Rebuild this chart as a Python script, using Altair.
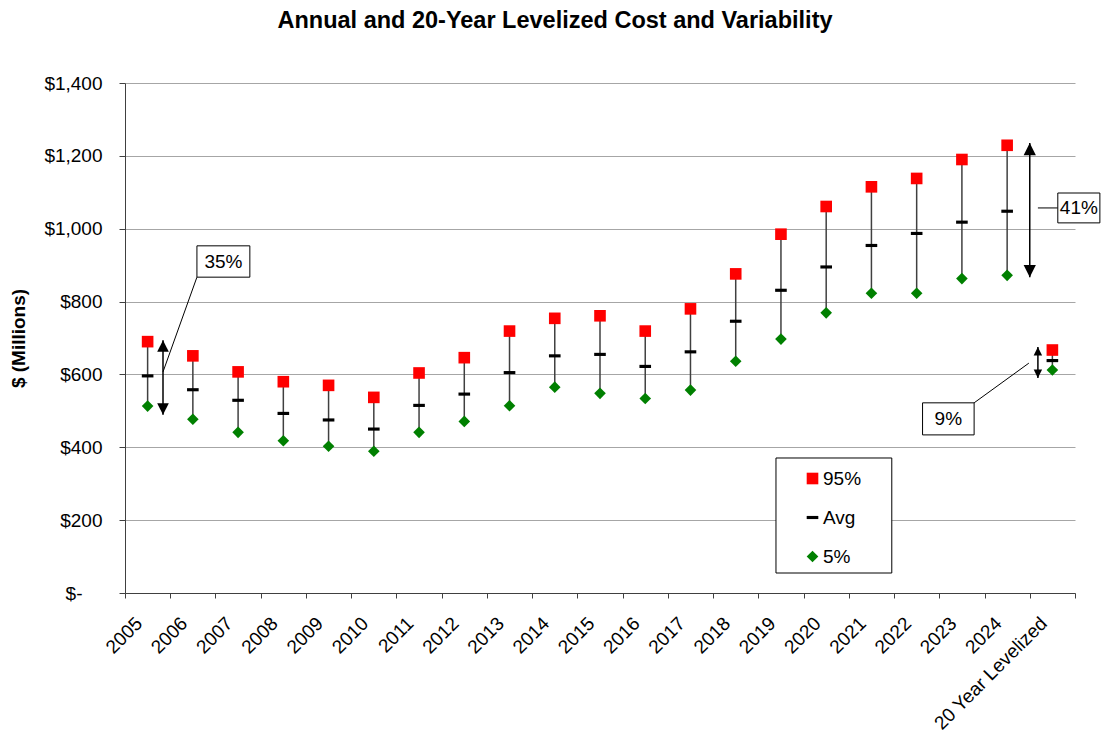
import json
import altair as alt
import pandas as pd

# ---------------- data ----------------
categories = ['2005', '2006', '2007', '2008', '2009', '2010', '2011', '2012', '2013', '2014',
              '2015', '2016', '2017', '2018', '2019', '2020', '2021', '2022', '2023', '2024',
              '20 Year Levelized']
p95 = [690, 651, 607, 580, 570, 537, 604, 646, 719, 754, 761, 719, 780, 876, 985, 1061, 1115, 1138, 1190, 1229, 667]
avg = [596, 558, 529, 493, 475, 450, 515, 546, 605, 651, 655, 622, 662, 746, 831, 895, 954, 987, 1018, 1048, 638]
p5 = [513, 477, 441, 418, 403, 389, 441, 471, 514, 565, 548, 534, 557, 636, 697, 769, 823, 823, 863, 872, 612]

series_names = ['95%', 'Avg', '5%']
series_colors = ['#ff0000', '#000000', '#008000']
y_ticks = [0, 200, 400, 600, 800, 1000, 1200, 1400]

# variability annotations (x in category-index units, y in $ millions)
arrow_labels = ['35%', '41%', '9%']
arrow_x = [0.34, 19.5, 19.68]
arrow_low = [489, 867, 590]
arrow_high = [694, 1235, 675]
arrow_head = [135, 150, 72]

box_x1 = [1.09, 20.12, 17.13]
box_x2 = [2.26, 21.05, 18.27]
box_top = [953, 1098, 522]
box_bottom = [867, 1016, 434]
leader_x1 = [1.09, 19.68, 18.27]
leader_y1 = [867, 1057, 522]
leader_x2 = [0.34, 20.12, 19.48]
leader_y2 = [607, 1057, 631]

legend_box = dict(x1=13.89, x2=16.45, top=370.6, bottom=54.9)

# ---------------- tables ----------------
n = len(categories)
long_rows = []
for i in range(n):
    for s, v in zip(series_names, (p95[i], avg[i], p5[i])):
        long_rows.append({'i': i, 'cat': categories[i], 'series': s, 'value': v})
points_df = pd.DataFrame(long_rows)
whisk_df = pd.DataFrame({'i': list(range(n)), 'low': p5, 'high': p95})

up_path = 'M0,0L1,2L-1,2Z'
down_path = 'M0,0L1,-2L-1,-2Z'
dash_path = 'M-1,-0.27L1,-0.27L1,0.27L-1,0.27Z'

up_df = pd.DataFrame({'x': arrow_x, 'y': arrow_high, 'size': arrow_head})
down_df = pd.DataFrame({'x': arrow_x, 'y': arrow_low, 'size': arrow_head})
shaft_df = pd.DataFrame({'x': arrow_x, 'low': arrow_low, 'high': arrow_high})
leader_df = pd.DataFrame({'x': leader_x1, 'x2': leader_x2, 'y': leader_y1, 'y2': leader_y2})
box_df = pd.DataFrame({'x': box_x1, 'x2': box_x2, 'y': box_top, 'y2': box_bottom,
                       'label': arrow_labels,
                       'tx': [(a + b) / 2 for a, b in zip(box_x1, box_x2)],
                       'ty': [(a + b) / 2 for a, b in zip(box_top, box_bottom)]})
legbox_df = pd.DataFrame([{'x': legend_box['x1'], 'x2': legend_box['x2'],
                           'y': legend_box['top'], 'y2': legend_box['bottom']}])

# ---------------- scales & axes ----------------
FONT = 'Liberation Sans'
band_px = 950 / n
xscale = alt.Scale(domain=[-0.5, n - 0.5], nice=False, zero=False)
yscale = alt.Scale(domain=[0, 1400], nice=False, zero=True)

label_expr = json.dumps(categories) + "[round(datum.value + 0.5)] || ''"
xaxis = alt.Axis(values=[k - 0.5 for k in range(n + 1)], labelExpr=label_expr,
                 labelAngle=-45, labelAlign='right', labelBaseline='middle',
                 labelOffset=band_px / 2 - 9, labelPadding=22, tickSize=5,
                 labelFontSize=19, labelColor='black', labelFont=FONT,
                 domainColor='#404040', tickColor='#404040', grid=False, title=None,
                 labelFlush=False, labelOverlap=False, labelBound=False)
yaxis = alt.Axis(values=y_ticks,
                 labelExpr="datum.value == 0 ? '$-' : '$' + format(datum.value, ',')",
                 labelFontSize=19, labelColor='black', labelFont=FONT,
                 labelPadding={'condition': {'test': 'datum.value == 0', 'value': 37}, 'value': 17},
                 tickSize=6, grid=True, gridColor='#a6a6a6', domainColor='#404040',
                 tickColor='#404040', title='$ (Millions)', titleFontSize=19,
                 titleFont=FONT, titleFontWeight='bold', titleColor='black',
                 titleX=-107, titleY=255, titleBaseline='middle')


def X(f):
    return alt.X(f, scale=xscale, axis=xaxis)


def Y(f):
    return alt.Y(f, scale=yscale, axis=yaxis)


legbox = alt.Chart(legbox_df).mark_rect(fill='white', stroke='black', strokeWidth=1).encode(
    x=X('x:Q'), x2='x2:Q', y=Y('y:Q'), y2='y2:Q')

whiskers = alt.Chart(whisk_df).mark_rule(color='#404040', strokeWidth=1.5).encode(
    x=X('i:Q'), y=Y('low:Q'), y2='high:Q')

points = alt.Chart(points_df).mark_point(filled=True, size=135, opacity=1, strokeWidth=0).encode(
    x=X('i:Q'), y=Y('value:Q'),
    shape=alt.Shape('series:N', scale=alt.Scale(domain=series_names,
                                                range=['square', dash_path, 'diamond']),
                    legend=alt.Legend(title=None)),
    color=alt.Color('series:N', scale=alt.Scale(domain=series_names, range=series_colors),
                    legend=alt.Legend(title=None)),
)

shafts = alt.Chart(shaft_df).mark_rule(color='black', strokeWidth=1.5).encode(
    x=X('x:Q'), y=Y('low:Q'), y2='high:Q')

heads_up = alt.Chart(up_df).mark_point(filled=True, color='black', opacity=1, strokeWidth=0,
                                       shape=up_path).encode(
    x=X('x:Q'), y=Y('y:Q'), size=alt.Size('size:Q', scale=None, legend=None))

heads_down = alt.Chart(down_df).mark_point(filled=True, color='black', opacity=1, strokeWidth=0,
                                           shape=down_path).encode(
    x=X('x:Q'), y=Y('y:Q'), size=alt.Size('size:Q', scale=None, legend=None))

leaders = alt.Chart(leader_df).mark_rule(color='black', strokeWidth=1).encode(
    x=X('x:Q'), x2='x2:Q', y=Y('y:Q'), y2='y2:Q')

boxes = alt.Chart(box_df).mark_rect(fill='white', stroke='black', strokeWidth=1).encode(
    x=X('x:Q'), x2='x2:Q', y=Y('y:Q'), y2='y2:Q')

texts = alt.Chart(box_df).mark_text(fontSize=19, font=FONT, color='black',
                                    baseline='middle', align='center').encode(
    x=X('tx:Q'), y=Y('ty:Q'), text='label:N')

chart = alt.layer(legbox, whiskers, points, shafts, heads_up, heads_down, leaders, boxes, texts).properties(
    width=950, height=510,
    autosize=alt.AutoSizeParams(type='none'),
    padding={'left': 117, 'top': 75, 'right': 27, 'bottom': 143},
    title=alt.TitleParams('Annual and 20-Year Levelized Cost and Variability',
                          fontSize=23.5, font=FONT, fontWeight='bold', color='black',
                          anchor='middle', frame='group', dx=-45, offset=42),
).configure_view(
    stroke=None
).configure_legend(
    orient='none', legendX=678, legendY=386, padding=0, symbolOffset=0,
    labelFontSize=19, labelFont=FONT, labelColor='black', symbolSize=135,
    symbolStrokeWidth=0, rowPadding=19, labelOffset=1
)

chart.save('out.html', embed_options={'renderer': 'svg', 'actions': False})
